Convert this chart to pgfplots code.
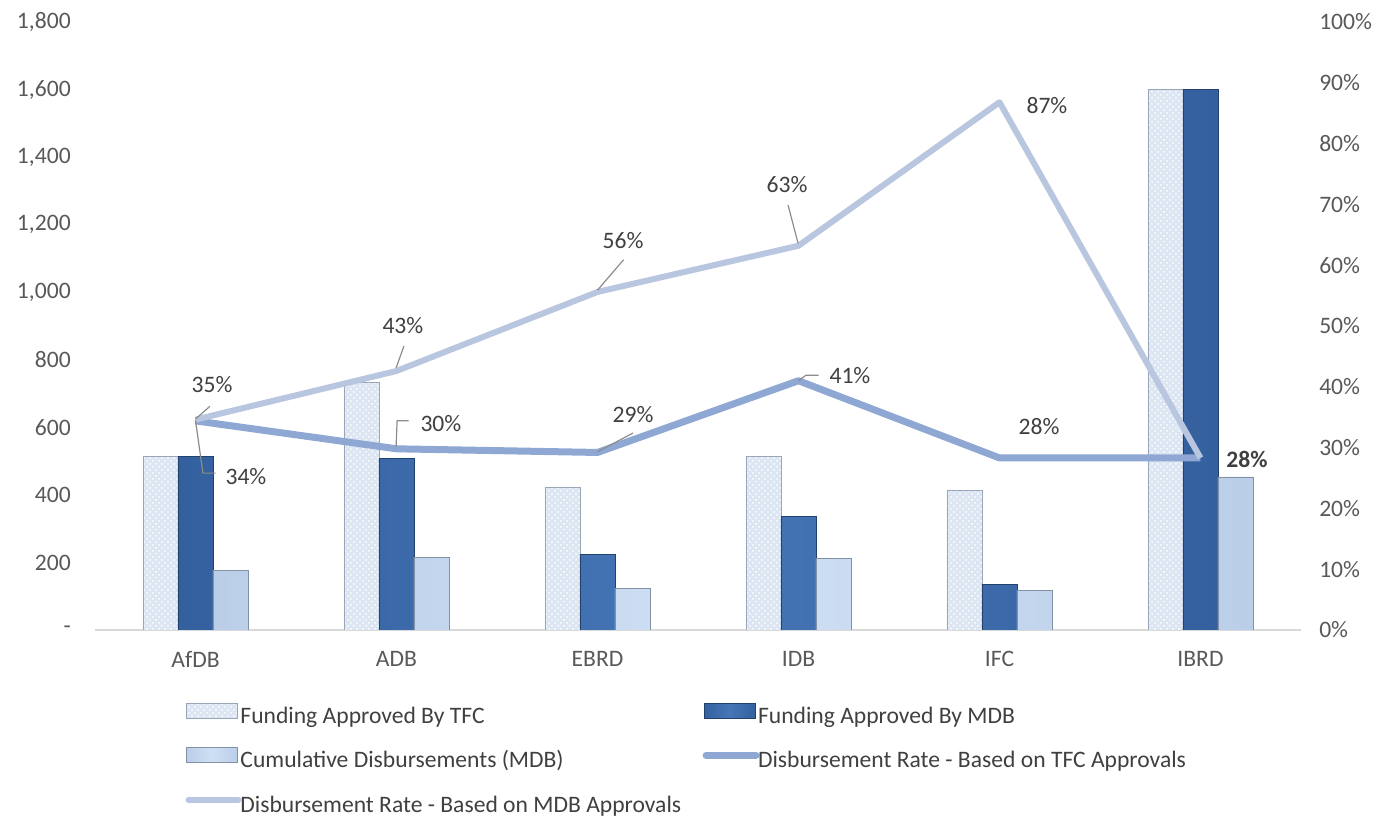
\documentclass[border=0pt]{standalone}
\usepackage{fontspec}
\setmainfont{Carlito}
\usepackage{pgfplots}
\pgfplotsset{compat=1.18}
\usetikzlibrary{patterns}
\definecolor{tfcfill}{HTML}{DCE5F2}
\definecolor{tfcdraw}{HTML}{9AA6B8}
\definecolor{mdbfill}{HTML}{4676B8}
\definecolor{mdbedge}{HTML}{34609E}
\definecolor{mdbdraw}{HTML}{22426E}
\definecolor{cumfill}{HTML}{CFE0F4}
\definecolor{cumedge}{HTML}{BACEE8}
\definecolor{cumdraw}{HTML}{8391A5}
\definecolor{ratetfc}{HTML}{8EA7D3}
\definecolor{ratemdb}{HTML}{B9C6DF}
\definecolor{ticktext}{HTML}{595959}
\definecolor{labeltext}{HTML}{404040}
\definecolor{axisgray}{HTML}{D9D9D9}
\definecolor{leader}{HTML}{8C8C8C}
\newcommand{\legbox}{\pgfpathrectangle{\pgfpoint{0pt}{-2pt}}{\pgfpoint{27pt}{10pt}}\pgfusepath{use as bounding box}}
\pgfplotsset{
  lineleg/.style={legend image code/.code={\legbox\draw[##1, line cap=round] (1pt,3.25pt) -- (26pt,3.25pt);}},
  common/.style={scale only axis, width=603pt, height=304pt,
    xmin=-0.5, xmax=5.5, at={(0,0)}, anchor=south west,
    xtick={0,...,5}, major tick length=0pt, tick style={draw=none},
    tick label style={text=ticktext}},
}
\begin{document}
\begin{tikzpicture}[font=\fontsize{11.8}{14}\selectfont]
\begin{axis}[common,
  ymin=0, ymax=1800, ytick={0,200,...,1800},
  yticklabels={{-},{200},{400},{600},{800},{1,000},{1,200},{1,400},{1,600},{1,800}},
  xticklabels={AfDB,ADB,EBRD,IDB,IFC,IBRD},
  axis lines*=left, y axis line style={draw=none},
  x axis line style={draw=axisgray, line width=1pt, -},
  yticklabel style={xshift=-8.6pt},
  xticklabel style={yshift=-7pt},
  ybar, bar width=17.5pt,
]
\addplot[bar shift=-17.5pt, draw=tfcdraw, fill=tfcfill, postaction={pattern=crosshatch dots, pattern color=white}]
  coordinates {(0,515) (1,734) (2,422) (3,515) (4,413) (5,1600)};
\addplot[bar shift=0pt, draw=mdbdraw, left color=mdbedge, right color=mdbedge, middle color=mdbfill]
  coordinates {(0,515) (1,509) (2,223) (3,335) (4,136) (5,1600)};
\addplot[bar shift=17.5pt, draw=cumdraw, left color=cumedge, right color=cumedge, middle color=cumfill]
  coordinates {(0,177) (1,216) (2,123) (3,211) (4,117) (5,453)};
\end{axis}
\begin{axis}[common,
  ymin=0, ymax=100, ytick={0,10,...,100},
  yticklabels={0\%,10\%,20\%,30\%,40\%,50\%,60\%,70\%,80\%,90\%,100\%},
  axis y line*=right, y axis line style={draw=none},
  axis x line=none,
  yticklabel style={xshift=5.6pt},
  legend columns=2,
  legend cell align=left,
  legend style={at={(0.0755,-0.1167)}, anchor=north west, draw=none, fill=none,
    inner sep=0pt, row sep=9.25pt, column sep=0pt,
    nodes={inner sep=0pt, text=labeltext, text height=8pt, text depth=2pt}},
]
\addlegendimage{legend image code/.code={\legbox\draw[tfcdraw, fill=tfcfill, postaction={pattern=crosshatch dots, pattern color=white}] (0pt,-0.5pt) rectangle (25.5pt,7pt);}}
\addlegendentry{\makebox[231.8pt][l]{Funding Approved By TFC}}
\addlegendimage{legend image code/.code={\legbox\draw[mdbdraw, left color=mdbedge, right color=mdbedge, middle color=mdbfill] (0pt,-0.5pt) rectangle (25.5pt,7pt);}}
\addlegendentry{Funding Approved By MDB}
\addlegendimage{legend image code/.code={\legbox\draw[cumdraw, left color=cumedge, right color=cumedge, middle color=cumfill] (0pt,-0.5pt) rectangle (25.5pt,7pt);}}
\addlegendentry{\makebox[231.8pt][l]{Cumulative Disbursements (MDB)}}
\addplot[ratetfc, line width=3.5pt, line join=round, mark=none, lineleg]
  coordinates {(0,34.4) (1,29.8) (2,29.2) (3,41.0) (4,28.3) (5,28.3)};
\addlegendentry{Disbursement Rate - Based on TFC Approvals}
\addplot[ratemdb, line width=3pt, line join=round, mark=none, lineleg]
  coordinates {(0,34.6) (1,42.6) (2,55.6) (3,63.2) (4,86.8) (5,28.3)};
\addlegendentry{Disbursement Rate - Based on MDB Approvals}
% leader lines
\draw[leader, line width=0.6pt] (axis cs:0,34.7) -- (axis cs:0.072,36.8);
\draw[leader, line width=0.6pt] (axis cs:0,34.5) -- (axis cs:0.037,25.8) -- (axis cs:0.10,25.8);
\draw[leader, line width=0.6pt] (axis cs:0.998,43.1) -- (axis cs:1.037,46.7);
\draw[leader, line width=0.6pt] (axis cs:0.998,30.1) -- (axis cs:1.003,34.4) -- (axis cs:1.06,34.4);
\draw[leader, line width=0.6pt] (axis cs:2.0,55.9) -- (axis cs:2.13,60.9);
\draw[leader, line width=0.6pt] (axis cs:2.0,29.3) -- (axis cs:2.177,32.4);
\draw[leader, line width=0.6pt] (axis cs:2.998,63.6) -- (axis cs:2.948,69.9);
\draw[leader, line width=0.6pt] (axis cs:3.0,41.0) -- (axis cs:3.037,41.9) -- (axis cs:3.10,41.9);
% data labels
\node[text=labeltext] at (axis cs:0.082,40.3) {35\%};
\node[text=labeltext] at (axis cs:0.251,25.3) {34\%};
\node[text=labeltext] at (axis cs:1.032,50.0) {43\%};
\node[text=labeltext] at (axis cs:1.221,34.0) {30\%};
\node[text=labeltext] at (axis cs:2.127,64.0) {56\%};
\node[text=labeltext] at (axis cs:2.177,35.5) {29\%};
\node[text=labeltext] at (axis cs:2.943,73.2) {63\%};
\node[text=labeltext] at (axis cs:3.256,41.8) {41\%};
\node[text=labeltext] at (axis cs:4.236,86.3) {87\%};
\node[text=labeltext] at (axis cs:4.197,33.4) {28\%};
\node[text=labeltext, font=\fontsize{11.8}{14}\selectfont\bfseries] at (axis cs:5.231,28.1) {28\%};
\end{axis}
\pgfresetboundingbox
\path[use as bounding box] (-47.5pt,-94pt) rectangle (647pt,315pt);
\end{tikzpicture}
\end{document}
